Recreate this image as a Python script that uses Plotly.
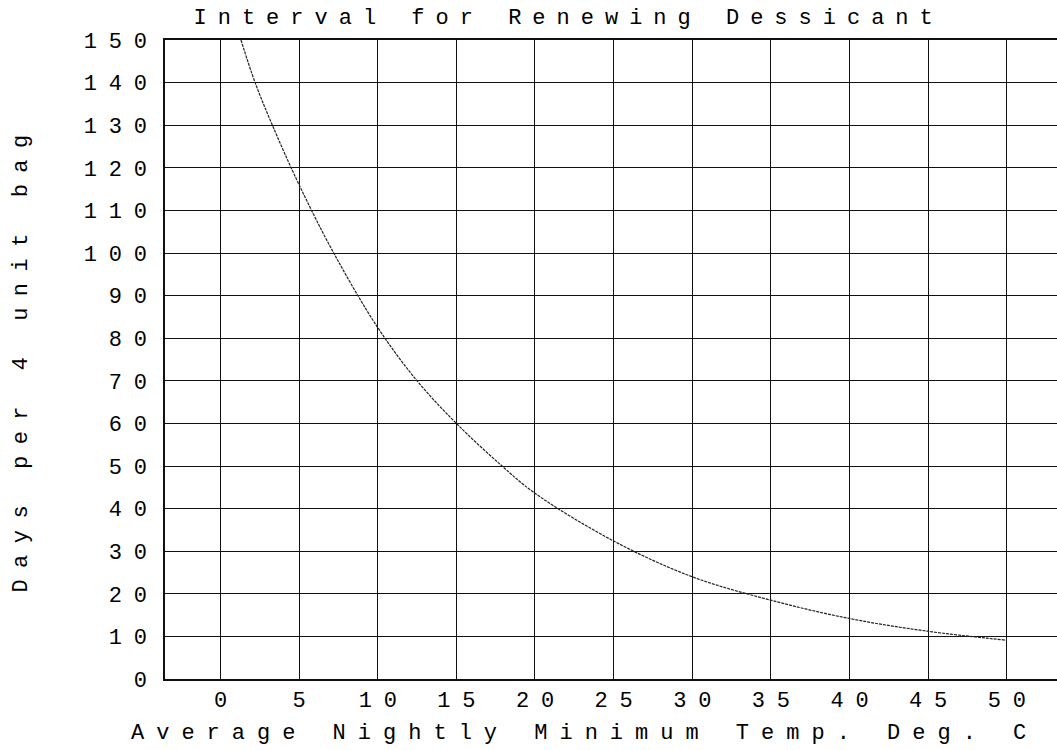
import plotly.graph_objects as go

# ---- data ----
temp_c = [1.3, 2.2, 3.3, 5.0, 7.2, 10.0, 12.5, 15.0, 17.75,
          20.0, 25.0, 30.0, 35.0, 40.0, 45.0, 50.0]
days = [150, 140, 130, 116, 100, 82.5, 70, 60, 50.5,
        43.6, 32.4, 24.0, 18.5, 14.2, 11.2, 9.1]

x_ticks = [0, 5, 10, 15, 20, 25, 30, 35, 40, 45, 50]
y_ticks = [0, 10, 20, 30, 40, 50, 60, 70, 80, 90, 100, 110, 120, 130, 140, 150]

title_text = "Interval for Renewing Dessicant"
x_title = "Average Nightly Minimum Temp. Deg. C"
y_title = "Days per 4 unit bag"

FONT = "Liberation Mono, Courier New, monospace"
FS = 22

W, H = 1057, 750
L, R, T, B = 164.5, 0, 39.5, 71
pw, ph = W - L - R, H - T - B

fig = go.Figure()
fig.add_trace(go.Scatter(
    x=temp_c, y=days, mode="lines",
    line=dict(color="#222222", width=1.2, dash="3px,1px", shape="spline", smoothing=1.0),
    showlegend=False, hoverinfo="skip",
))

fig.update_xaxes(
    range=[-3.53, 53.2], tickmode="array", tickvals=x_ticks,
    ticktext=[str(v) for v in x_ticks],
    showgrid=True, gridcolor="#111111", gridwidth=1.3,
    showline=True, linecolor="#111111", linewidth=1.5, mirror=True,
    zeroline=False, ticks="", ticklabelshift=6, ticklabelstandoff=0,
    tickfont=dict(family=FONT, size=FS, color="#000000"),
)
fig.update_yaxes(
    range=[0, 150], tickmode="array", tickvals=y_ticks,
    ticktext=[str(v) for v in y_ticks],
    showgrid=True, gridcolor="#111111", gridwidth=1.3,
    showline=True, linecolor="#111111", linewidth=1.5, mirror=False,
    zeroline=False, ticks="", ticklabelstandoff=0,
    tickfont=dict(family=FONT, size=FS, color="#000000"),
)

def px_to_paper_x(px):
    return (px - L) / pw

def px_to_paper_y(py):
    return (H - B - py) / ph

annots = [
    dict(text=title_text, x=px_to_paper_x(568), y=px_to_paper_y(18),
         xanchor="center", yanchor="middle"),
    dict(text=x_title, x=px_to_paper_x(584), y=px_to_paper_y(733.5),
         xanchor="center", yanchor="middle"),
    dict(text=y_title, x=px_to_paper_x(21), y=px_to_paper_y(357.5),
         xanchor="center", yanchor="middle", textangle=-90),
]
for a in annots:
    fig.add_annotation(xref="paper", yref="paper", showarrow=False,
                       font=dict(family=FONT, size=FS, color="#000000"), **a)

fig.update_layout(
    width=W, height=H,
    margin=dict(l=L, r=R, t=T, b=B, pad=0),
    paper_bgcolor="white", plot_bgcolor="white",
)

post = """
document.body.style.margin='0';
document.body.style.overflow='hidden';
var gd = document.getElementById('{plot_id}');
function spacing(){
  gd.querySelectorAll('.xtick text, .ytick text').forEach(function(t){t.style.letterSpacing='11.8px';});
  var sp = ['11px', '12px', '11.5px'];
  gd.querySelectorAll('.annotation-text').forEach(function(t, i){t.style.letterSpacing=sp[i] || '11.5px';});
}
spacing();
gd.on('plotly_afterplot', spacing);
"""

fig.write_html("out.html", post_script=post, config={"displayModeBar": False})
